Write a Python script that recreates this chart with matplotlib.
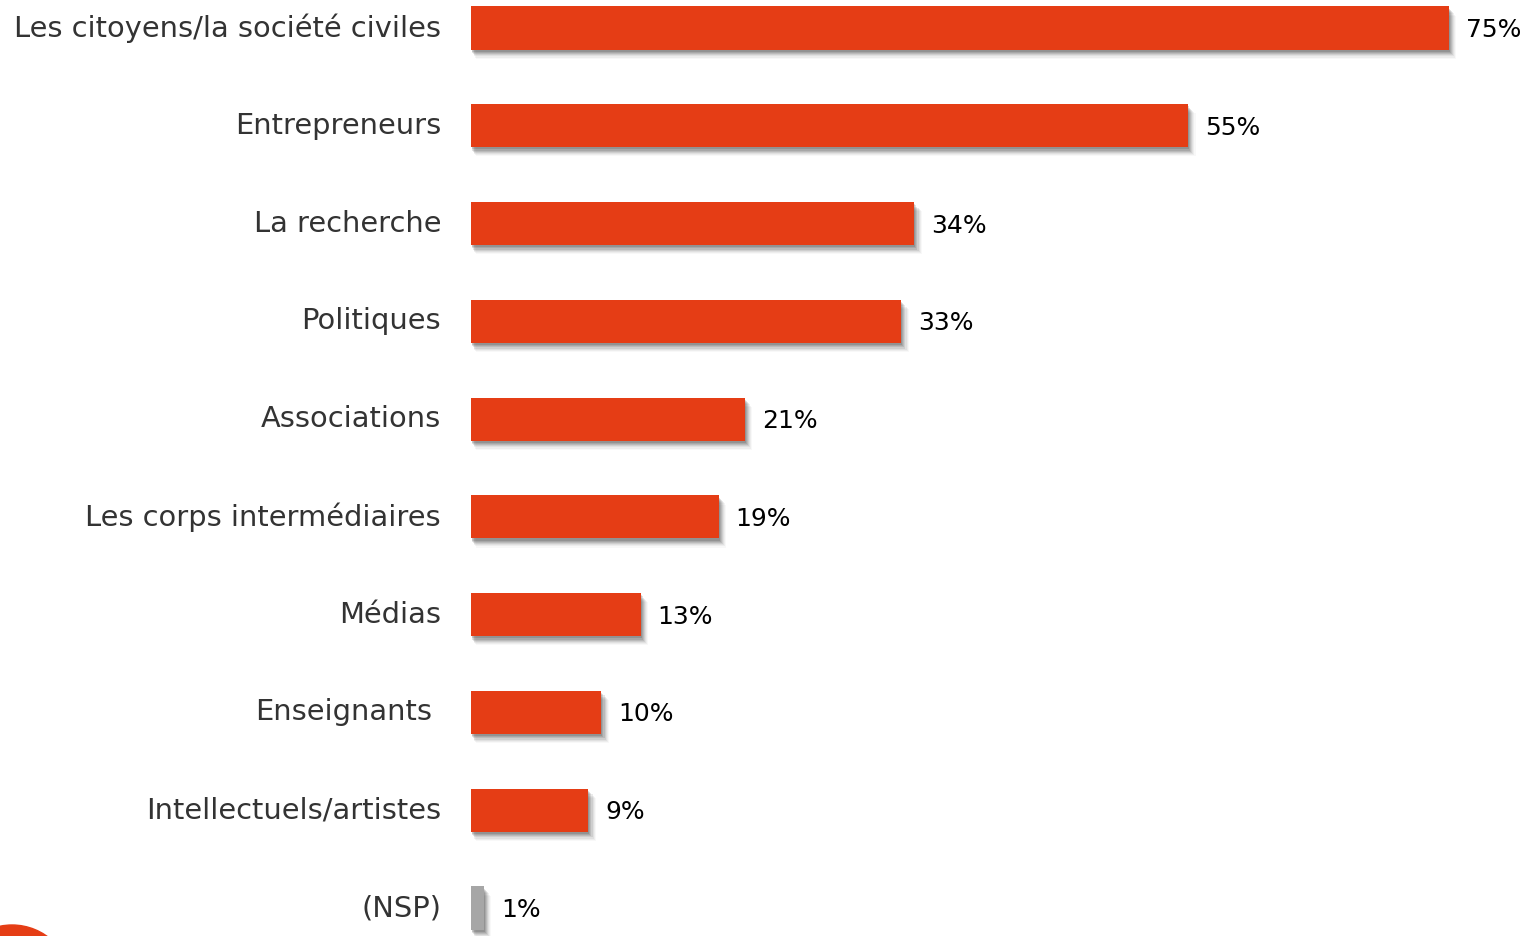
import matplotlib
matplotlib.use("Agg")
import matplotlib.pyplot as plt
from matplotlib.patches import Ellipse

# categories and percentages
categories = ["Les citoyens/la société civiles", "Entrepreneurs", "La recherche",
              "Politiques", "Associations", "Les corps intermédiaires", "Médias",
              "Enseignants", "Intellectuels/artistes", "(NSP)"]
values = [75, 55, 34, 33, 21, 19, 13, 10, 9, 1]
value_labels = ["75%", "55%", "34%", "33%", "21%", "19%", "13%", "10%", "9%", "1%"]

ORANGE = "#E53D15"
GREY = "#A6A6A6"
colors = [ORANGE] * 9 + [GREY]

fig = plt.figure(figsize=(15.3, 9.36), dpi=100)
ax = fig.add_axes([471 / 1530, 0, 1 - 471 / 1530, 1])

y = list(range(len(categories)))
h = 0.44

# soft drop shadow under each bar
for k, a in [(1, 0.16), (2, 0.14), (3, 0.12), (4, 0.10), (5, 0.07), (6, 0.05), (7, 0.03)]:
    ax.barh([i + 0.012 * k + 0.01 for i in y], [v + 0.03 * k for v in values],
            height=h, left=0.05 * k, color="#333333", alpha=a, zorder=1)

ax.barh(y, values, height=h, color=colors, zorder=3)

for i, (v, lab) in enumerate(zip(values, value_labels)):
    ax.text(v + 1.3, i + 0.02, lab, va="center", ha="left", fontsize=18,
            color="black")

for i, cat in enumerate(categories):
    xoff = -30 if cat != "Enseignants" else -39
    ax.annotate(cat, xy=(0, i), xycoords="data", xytext=(xoff, 0),
                textcoords="offset pixels", ha="right", va="center",
                fontsize=20.8, color="#333333", annotation_clip=False)

ax.set_xlim(0, (1530 - 471) / 13.04)
ax.set_ylim(9 + 28 / 97.8, -28 / 97.8)
ax.axis("off")

# fragment of a logo in the bottom-left corner
fig.patches.append(Ellipse((12 / 1530, 1 - 985 / 936), 120 / 1530, 120 / 936,
                           transform=fig.transFigure, color=ORANGE, zorder=0))

plt.savefig("out.png", dpi=100)
